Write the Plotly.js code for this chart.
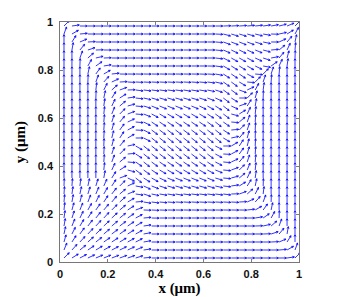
<!DOCTYPE html>
<html><head><meta charset="utf-8">
<script src="https://cdn.plot.ly/plotly-3.0.1.min.js"></script>
<style>html,body{margin:0;padding:0;background:#fff;}#chart{width:346px;height:297px;}</style>
</head><body><div id="chart"></div>
<script>
// grid columns (x, µm) and rows (y, µm, listed top to bottom)
const xGrid = [0.0167,0.05,0.0833,0.1167,0.15,0.1833,0.2167,0.25,0.2833,0.3167,0.35,0.3833,0.4167,0.45,0.4833,0.5167,0.55,0.5833,0.6167,0.65,0.6833,0.7167,0.75,0.7833,0.8167,0.85,0.8833,0.9167,0.95,0.9833];
const yGrid = [0.9833,0.95,0.9167,0.8833,0.85,0.8167,0.7833,0.75,0.7167,0.6833,0.65,0.6167,0.5833,0.55,0.5167,0.4833,0.45,0.4167,0.3833,0.35,0.3167,0.2833,0.25,0.2167,0.1833,0.15,0.1167,0.0833,0.05,0.0167];
// in-plane direction angle of each arrow in degrees (rows top to bottom, columns left to right)
const thetaDeg = [
[45,8,0,0,0,0,0,0,0,0,0,0,0,0,0,0,0,0,0,0,2,3,4,5,6,8,10,14,22,45],
[70,30,5,0,0,0,0,0,0,0,0,0,0,0,0,0,0,0,0,-3,-15,-17,-17,-16,-14,-10,-2,12,32,62],
[90,58,23,3,0,0,0,0,0,0,0,0,0,0,0,0,0,0,0,-4,-20,-22,-22,-21,-18,-12,0,25,50,78],
[90,80,50,18,2,0,0,0,0,0,0,0,0,0,0,0,0,0,0,-5,-24,-26,-26,-25,-22,-15,5,40,65,85],
[90,90,70,41,13,2,0,0,0,0,0,0,0,0,0,0,0,0,0,-6,-27,-29,-29,-28,-25,-18,10,50,75,88],
[90,90,88,61,35,9,0,0,0,0,0,0,0,0,0,0,0,0,-1,-7,-30,-32,-32,-30,-26,-10,35,65,82,90],
[90,90,90,78,54,30,6,-1,-1,-1,-1,-1,-1,-1,-1,-1,-1,-2,-3,-10,-33,-34,-34,-28,-5,45,72,85,90,90],
[90,90,90,88,70,48,25,3,-3,-3,-3,-3,-3,-3,-3,-3,-4,-5,-7,-13,-35,-36,-30,-5,45,72,86,90,90,90],
[90,90,90,90,83,63,42,20,2,-7,-7,-7,-7,-7,-7,-9,-9,-9,-12,-18,-36,-36,-20,25,62,82,90,90,90,90],
[90,90,90,90,88,78,58,32,8,-6,-13,-16,-16,-16,-16,-16,-16,-18,-21,-25,-37,-32,0,45,75,88,90,90,90,90],
[90,90,90,90,90,82,64,40,15,-5,-17,-23,-23,-23,-23,-23,-23,-26,-29,-32,-38,-25,20,58,80,90,90,90,90,90],
[90,90,90,90,90,84,68,45,20,-5,-22,-28,-30,-30,-30,-30,-30,-30,-33,-36,-37,-15,32,65,84,90,90,90,90,90],
[90,90,90,90,90,85,72,50,25,-5,-27,-34,-34,-34,-34,-34,-34,-34,-36,-38,-35,-5,40,70,86,90,90,90,90,90],
[90,90,90,90,90,86,74,54,28,-3,-28,-37,-37,-37,-37,-37,-37,-37,-37,-38,-33,5,45,72,87,90,90,90,90,90],
[90,90,90,90,90,87,76,57,30,0,-27,-38,-38,-38,-38,-38,-38,-38,-38,-38,-30,12,50,75,88,90,90,90,90,90],
[90,90,90,90,90,88,75,50,12,-30,-38,-38,-38,-38,-38,-38,-38,-38,-38,-27,0,30,57,76,87,90,90,90,90,90],
[90,90,90,90,90,87,72,45,5,-33,-38,-37,-37,-37,-37,-37,-37,-37,-37,-28,-3,28,54,74,86,90,90,90,90,90],
[90,90,90,90,90,86,70,40,-5,-35,-38,-36,-34,-34,-34,-34,-34,-34,-34,-27,-5,25,50,72,85,90,90,90,90,90],
[90,90,90,90,90,84,65,32,-15,-37,-36,-33,-30,-30,-30,-30,-30,-30,-28,-22,-5,20,45,68,84,90,90,90,90,90],
[90,90,90,90,90,80,58,20,-25,-38,-32,-29,-26,-23,-23,-23,-23,-23,-23,-17,-5,15,40,64,82,90,90,90,90,90],
[88,86,83,78,73,66,57,45,25,-10,-25,-21,-18,-16,-16,-16,-16,-16,-16,-13,-6,8,32,58,78,88,90,90,90,90],
[86,82,78,73,67,60,52,40,22,-8,-18,-12,-9,-9,-9,-7,-7,-7,-7,-7,-7,2,20,42,63,83,90,90,90,90],
[85,80,75,69,63,57,50,42,30,5,-9,-7,-5,-4,-3,-3,-3,-3,-3,-3,-3,-3,3,25,48,70,88,90,90,90],
[84,75,68,61,55,50,45,40,33,20,-2,-3,-2,-1,-1,-1,-1,-1,-1,-1,-1,-1,-1,6,30,54,78,90,90,90],
[82,72,64,57,51,47,43,39,35,28,5,-1,0,0,0,0,0,0,0,0,0,0,0,0,9,35,61,88,90,90],
[80,68,59,52,47,43,40,37,34,30,8,0,0,0,0,0,0,0,0,0,0,0,0,0,2,13,41,70,90,90],
[78,63,54,47,43,40,37,35,32,29,10,0,0,0,0,0,0,0,0,0,0,0,0,0,0,2,18,50,80,90],
[74,57,47,42,38,35,33,31,29,27,10,0,0,0,0,0,0,0,0,0,0,0,0,0,0,0,3,23,58,90],
[68,48,39,34,31,29,27,26,25,23,8,0,0,0,0,0,0,0,0,0,0,0,0,0,0,0,0,5,30,70],
[45,32,28,25,23,22,21,20,19,17,5,0,0,0,0,0,0,0,0,0,0,0,0,0,0,0,0,0,8,45]
];
const tickVals = [0,0.2,0.4,0.6,0.8,1];
const tickText = ['0','0.2','0.4','0.6','0.8','1'];

const arrowLen = 0.031;
const headLen = 0.3*arrowLen;
const headAng = 0.45;
const qx = [], qy = [];
for (let j = 0; j < yGrid.length; j++) {
  for (let i = 0; i < xGrid.length; i++) {
    const t = thetaDeg[j][i]*Math.PI/180;
    const x0 = xGrid[i], y0 = yGrid[j];
    const x1 = x0 + arrowLen*Math.cos(t), y1 = y0 + arrowLen*Math.sin(t);
    qx.push(x0, x1, null);
    qy.push(y0, y1, null);
    const a1 = t + Math.PI - headAng, a2 = t + Math.PI + headAng;
    qx.push(x1 + headLen*Math.cos(a1), x1, x1 + headLen*Math.cos(a2), null);
    qy.push(y1 + headLen*Math.sin(a1), y1, y1 + headLen*Math.sin(a2), null);
  }
}
const axisCommon = {
  range: [0,1], tickvals: tickVals, ticktext: tickText,
  ticks: 'inside', ticklen: 3, tickcolor: '#262626', tickwidth: 0.6,
  showline: true, linecolor: '#555', linewidth: 0.8, mirror: 'ticks',
  showgrid: false, zeroline: false, fixedrange: true,
  tickfont: {family: 'Liberation Sans, Arial, sans-serif', size: 11, color: '#111', weight: 'bold'}
};
const layout = {
  width: 346, height: 297,
  margin: {l: 60, r: 47, t: 22, b: 35},
  paper_bgcolor: '#fff', plot_bgcolor: '#fff', showlegend: false,
  xaxis: Object.assign({}, axisCommon, {
    ticklabelstandoff: 2,
    title: {text: 'x (μm)', standoff: 6, font: {family: 'Liberation Serif, Times New Roman, serif', size: 15, color: '#000', weight: 'bold'}}
  }),
  yaxis: Object.assign({}, axisCommon, {
    ticklabelstandoff: 4,
    title: {text: 'y (μm)', standoff: 8, font: {family: 'Liberation Serif, Times New Roman, serif', size: 15, color: '#000', weight: 'bold'}}
  })
};
Plotly.newPlot('chart', [{
  type: 'scatter', mode: 'lines', x: qx, y: qy,
  line: {color: '#0000ff', width: 0.8}, hoverinfo: 'skip'
}], layout, {staticPlot: true, displayModeBar: false});
</script>
</body></html>
